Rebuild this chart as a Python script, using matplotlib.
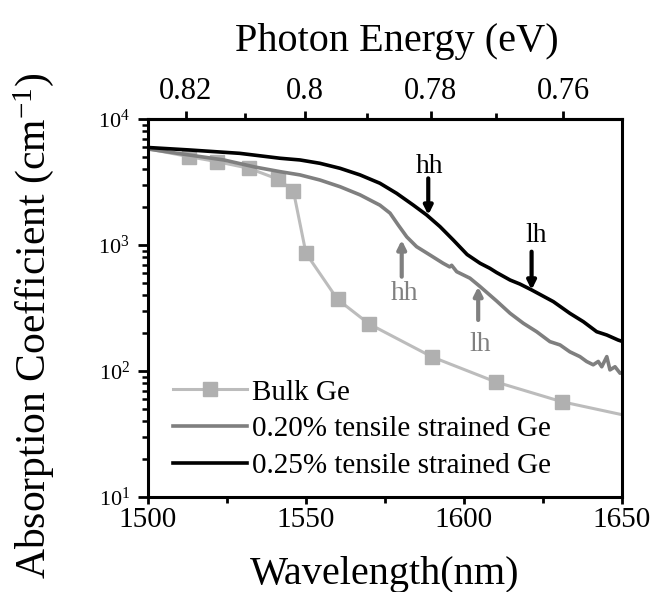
import numpy as np
import matplotlib
matplotlib.use("Agg")
import matplotlib.pyplot as plt
from matplotlib.ticker import FixedLocator, FuncFormatter, NullFormatter

# bulk Ge (squares)
wl_bulk = [1500, 1513, 1522, 1532, 1541, 1546, 1550, 1560, 1570, 1590, 1610, 1631, 1650]
abs_bulk = [5800, 5020, 4580, 4060, 3340, 2700, 860, 370, 236, 129, 82, 57, 45]

# 0.20% tensile strained Ge
wl_020 = [1500, 1513, 1524, 1534, 1541.8, 1548.1, 1554.4, 1560.8, 1567.1, 1573.4,
          1576.6, 1579.2, 1581.9, 1585, 1589.2, 1593.4, 1595.5, 1596.1, 1597.7,
          1601.9, 1605, 1610.3, 1614.6, 1618.8, 1623, 1627.2, 1630.4, 1633.5,
          1636.7, 1638.8, 1640.9, 1642.5, 1643.6, 1645.2, 1646.2, 1647.8, 1649.4, 1650]
abs_020 = [5780, 5180, 4730, 4150, 3820, 3600, 3280, 2900, 2500, 2070,
           1790, 1440, 1160, 970, 834, 716, 670, 690, 614,
           545, 470, 360, 287, 239, 205, 171, 161, 142,
           130, 119, 112, 119, 108, 130, 102, 108, 96, 97]

# 0.25% tensile strained Ge
wl_025 = [1500, 1513, 1529, 1541.8, 1548.1, 1554.4, 1560.8, 1567.1, 1573.4, 1578.7,
          1584, 1588.2, 1592.4, 1596.6, 1601, 1605.1, 1608.2, 1610.3, 1614.6, 1617.7,
          1621.4, 1628.3, 1633.5, 1637.8, 1642, 1645.2, 1648.8, 1650]
abs_025 = [5940, 5680, 5340, 4880, 4730, 4450, 4060, 3600, 3090, 2570,
           2070, 1730, 1400, 1096, 840, 716, 653, 605, 527, 490,
           440, 355, 287, 246, 205, 193, 176, 172]

series_labels = ["Bulk Ge", "0.20% tensile strained Ge", "0.25% tensile strained Ge"]

x_ticks = [1500, 1550, 1600, 1650]
x_minor = [1525, 1575, 1625]
ev_ticks = [0.82, 0.80, 0.78, 0.76]
ev_minor = [0.81, 0.79, 0.77]

# band edge markers: (label, text pos, arrow start, arrow tip, colour)
marks = [
    ("hh", (1589.2, 4180), (1588.7, 3380), (1588.7, 1730), "black"),
    ("lh", (1623.0, 1200), (1621.4, 885), (1621.4, 440), "black"),
    ("hh", (1581.3, 414), (1580.3, 560), (1580.3, 1096), "#808080"),
    ("lh", (1605.1, 161), (1604.5, 254), (1604.5, 467), "#808080"),
]

plt.rcParams["font.family"] = "Liberation Serif"
plt.rcParams["mathtext.fontset"] = "custom"
plt.rcParams["mathtext.rm"] = "Liberation Serif"
plt.rcParams["mathtext.it"] = "Liberation Serif:italic"


def nm2ev(x):
    x = np.asarray(x, dtype=float)
    with np.errstate(divide="ignore"):
        return 1239.84 / x


fig = plt.figure(figsize=(6.51, 5.92), dpi=100)
ax = fig.add_axes([0.2273, 0.1605, 0.7281, 0.6385])

ax.plot(wl_bulk, abs_bulk, color="#bcbcbc", lw=2.2, marker="s", ms=10,
        mfc="#b0b0b0", mec="#b0b0b0",
        markevery=list(range(1, len(wl_bulk) - 1)), label=series_labels[0])
ax.plot(wl_020, abs_020, color="#7f7f7f", lw=2.6, label=series_labels[1])
ax.plot(wl_025, abs_025, color="black", lw=2.6, label=series_labels[2])

for txt, tpos, start, tip, col in marks:
    ax.annotate("", xy=tip, xytext=start,
                arrowprops=dict(arrowstyle="-|>,head_length=0.5,head_width=0.25",
                                lw=3, color=col, shrinkA=0, shrinkB=0))
    ax.text(tpos[0], tpos[1], txt, color=col, fontsize=20, ha="center", va="center")

ax.set_yscale("log")
ax.set_xlim(1500, 1650)
ax.set_ylim(10, 1e4)
ax.set_xticks(x_ticks)
ax.xaxis.set_minor_locator(FixedLocator(x_minor))
ax.yaxis.set_minor_formatter(NullFormatter())

for s in ax.spines.values():
    s.set_linewidth(2.2)

ax.tick_params(which="both", direction="out", width=2, top=False, right=False)
ax.tick_params(axis="x", which="major", length=5, labelsize=21, pad=2)
ax.tick_params(axis="x", which="minor", length=4)
ax.tick_params(axis="y", which="major", length=7, labelsize=16, pad=6)
ax.tick_params(axis="y", which="minor", length=4, width=1.8)

ax.set_xlabel("Wavelength(nm)", fontsize=29, labelpad=17)
ax.set_ylabel("Absorption Coefficient (cm$^{-1}$)", fontsize=30)
ax.yaxis.set_label_coords(-0.193, 0.454)

sec = ax.secondary_xaxis("top", functions=(nm2ev, nm2ev))
sec.set_xticks(ev_ticks)
sec.xaxis.set_minor_locator(FixedLocator(ev_minor))
sec.xaxis.set_major_formatter(FuncFormatter(lambda v, p: f"{v:g}"))
sec.tick_params(which="both", direction="out", width=2)
sec.tick_params(which="major", length=6, labelsize=22, pad=3)
sec.tick_params(which="minor", length=4)
sec.spines["top"].set_linewidth(2.2)
sec.set_xlabel("Photon Energy (eV)", fontsize=29, labelpad=19)
sec.xaxis.label.set_x(0.525)

ax.legend(loc="upper left", bbox_to_anchor=(0.053, 0.3115), frameon=False,
          fontsize=21, handlelength=2.55, handletextpad=0.15, labelspacing=0.35,
          borderpad=0, borderaxespad=0)

fig.savefig("out.png", dpi=100)
